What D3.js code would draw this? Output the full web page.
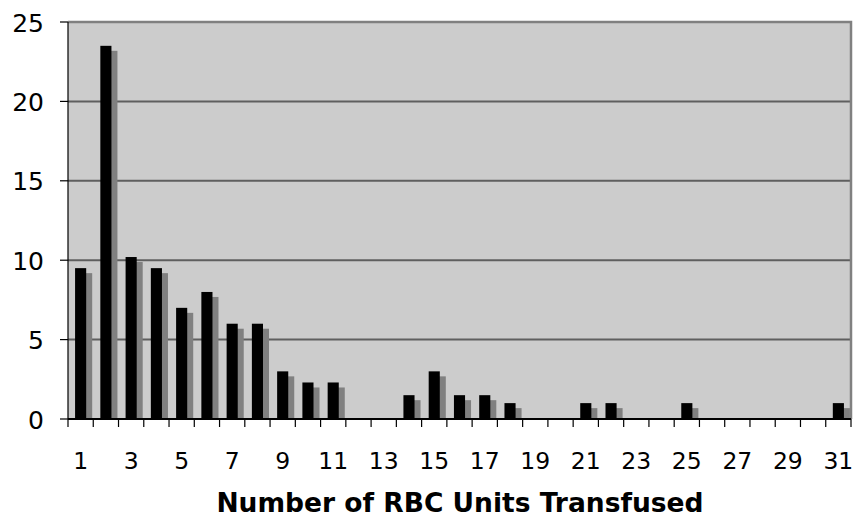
<!DOCTYPE html>
<html>
<head>
<meta charset="utf-8">
<script src="https://cdn.jsdelivr.net/npm/d3@7"></script>
<style>
  body { margin: 0; background: #fff; }
  svg text { font-family: "DejaVu Sans", Verdana, sans-serif; fill: #000; }
</style>
</head>
<body>
<div id="chart"></div>
<script>
// units transfused (1..31) and percent of patients
let units = d3.range(1, 32)
let percents = [9.5, 23.5, 10.2, 9.5, 7.0, 8.0, 6.0, 6.0, 3.0, 2.3,
                2.3, 0, 0, 1.5, 3.0, 1.5, 1.5, 1.0, 0, 0,
                1.0, 1.0, 0, 0, 1.0, 0, 0, 0, 0, 0, 1.0]
let yTicks = [0, 5, 10, 15, 20, 25]
let xLabels = units.filter(u => u % 2 == 1)
let xTitle = "Number of RBC Units Transfused"

let width = 857, height = 517
let margin = {left: 68, right: 6, top: 22, bottom: 98}

let svg = d3.select("#chart").append("svg")
    .attr("width", width)
    .attr("height", height)

let x = d3.scaleBand()
    .domain(units)
    .range([margin.left, width - margin.right])
    .padding(0)

let y = d3.scaleLinear()
    .domain([0, 25])
    .range([height - margin.bottom, margin.top])

let bw = x.bandwidth()

// plot background
svg.append("rect")
    .attr("x", margin.left)
    .attr("y", margin.top)
    .attr("width", width - margin.right - margin.left)
    .attr("height", y(0) - margin.top)
    .attr("fill", "#cccccc")

// gridlines
svg.selectAll("line.grid")
    .data(yTicks.filter(d => d > 0 && d < 25))
    .enter().append("line")
    .attr("class", "grid")
    .attr("x1", margin.left).attr("x2", width - margin.right)
    .attr("y1", d => y(d)).attr("y2", d => y(d))
    .attr("stroke", "#5f5f5f")
    .attr("stroke-width", 2)

// top + right border
svg.append("path")
    .attr("d", `M${margin.left},${y(25)}H${width - margin.right}V${y(0)}`)
    .attr("fill", "none")
    .attr("stroke", "#808080")
    .attr("stroke-width", 2.5)

svg.append("clipPath").attr("id", "plotclip")
    .append("rect")
    .attr("x", margin.left).attr("y", margin.top)
    .attr("width", width - margin.right - margin.left)
    .attr("height", y(0) - margin.top)

let bars = svg.append("g").attr("clip-path", "url(#plotclip)")
let data = units.map((u, i) => ({u: u, v: percents[i]}))

// shadow bars
bars.selectAll("rect.shadow")
    .data(data.filter(d => d.v > 0))
    .enter().append("rect")
    .attr("class", "shadow")
    .attr("x", d => x(d.u) + bw * 0.28 + 6)
    .attr("y", d => y(d.v) + 5)
    .attr("width", bw * 0.44)
    .attr("height", d => y(0) - y(d.v))
    .attr("fill", "#808080")

bars.selectAll("rect.bar")
    .data(data.filter(d => d.v > 0))
    .enter().append("rect")
    .attr("class", "bar")
    .attr("x", d => x(d.u) + bw * 0.28)
    .attr("y", d => y(d.v))
    .attr("width", bw * 0.44)
    .attr("height", d => y(0) - y(d.v))
    .attr("fill", "#000")

// y axis
svg.append("line")
    .attr("x1", margin.left).attr("x2", margin.left)
    .attr("y1", y(25)).attr("y2", y(0))
    .attr("stroke", "#000").attr("stroke-width", 1.2)

svg.selectAll("line.ytick")
    .data(yTicks)
    .enter().append("line")
    .attr("x1", margin.left - 8).attr("x2", margin.left)
    .attr("y1", d => y(d)).attr("y2", d => y(d))
    .attr("stroke", "#000").attr("stroke-width", 1.2)

svg.selectAll("text.ylab")
    .data(yTicks)
    .enter().append("text")
    .attr("x", 44)
    .attr("y", d => y(d) + 9.5)
    .attr("text-anchor", "end")
    .style("font-size", "25px")
    .text(d => d)

// x axis
svg.append("line")
    .attr("x1", margin.left).attr("x2", width - margin.right)
    .attr("y1", y(0)).attr("y2", y(0))
    .attr("stroke", "#000").attr("stroke-width", 2)

let tickPos = units.map(u => x(u)).concat([x(31) + bw])
svg.selectAll("line.xtick")
    .data(tickPos)
    .enter().append("line")
    .attr("x1", d => d).attr("x2", d => d)
    .attr("y1", y(0)).attr("y2", y(0) + 8)
    .attr("stroke", "#000").attr("stroke-width", 1.2)

svg.selectAll("text.xlab")
    .data(xLabels)
    .enter().append("text")
    .attr("x", d => x(d) + bw / 2)
    .attr("y", 469)
    .attr("text-anchor", "middle")
    .style("font-size", "23.5px")
    .text(d => d)

svg.append("text")
    .attr("x", 460)
    .attr("y", 512)
    .attr("text-anchor", "middle")
    .style("font-size", "26.5px")
    .style("font-weight", "bold")
    .text(xTitle)
</script>
</body>
</html>
